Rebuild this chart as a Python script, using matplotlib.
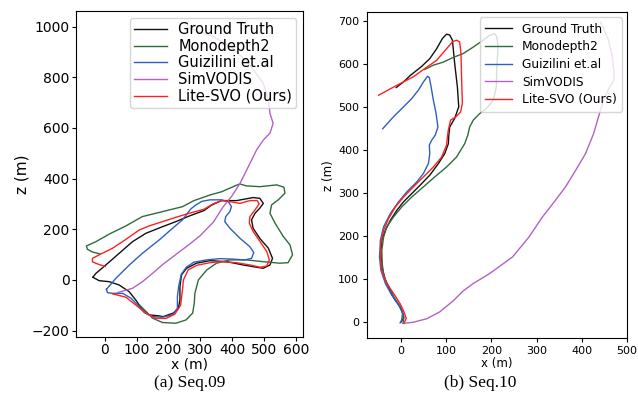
import matplotlib
matplotlib.use("Agg")
import matplotlib.pyplot as plt
import numpy as np

# colours of the five methods
names = ["Ground Truth", "Monodepth2", "Guizilini et.al", "SimVODIS", "Lite-SVO (Ours)"]
colors = ["#111111", "#2f6b3c", "#2f5fc0", "#b263c4", "#ff2020"]

# ---- Seq.09 trajectories (x, z) in metres ----
gt09_x = [-37, -18, 14, 45, 76, 97, 118, 139, 171, 183, 215, 231, 236, 236, 241, 257, 288, 330, 383, 435,
          477, 498, 519, 527, 514, 487, 466, 461, 472, 487, 498, 487, 466, 414, 367, 335, 312, 265, 223, 181,
          129, 87, 45, 3, -28, -37]
gt09_z = [10, -3, -7, -20, -46, -79, -118, -138, -142, -145, -131, -112, -79, -26, 20, 46, 66, 76, 72, 59,
          50, 46, 59, 85, 125, 164, 204, 237, 263, 283, 302, 322, 325, 313, 313, 295, 274, 252, 230, 210,
          184, 151, 105, 59, 26, 12]

mono09_x = [110, 150, 181, 223, 255, 276, 281, 283, 294, 320, 351, 393, 445, 498, 550, 576, 590, 582, 561,
            535, 519, 524, 545, 566, 563, 540, 487, 445, 424, 409, 367, 330, 280, 244, 202, 160, 118, 66,
            14, -28, -58, -55, -39, -16]
mono09_z = [-100, -151, -168, -171, -158, -131, -92, -53, 0, 39, 66, 79, 79, 72, 66, 68, 99, 138, 171,
            224, 263, 296, 316, 342, 366, 375, 368, 371, 379, 371, 348, 335, 313, 289, 276, 263, 250, 213,
            181, 151, 134, 121, 110, 103]

guiz09_x = [5, 8, 24, 56, 82, 103, 124, 150, 181, 213, 228, 228, 232, 240, 256, 280, 320, 362, 404, 440,
            461, 468, 456, 425, 393, 377, 380, 393, 398, 388, 367, 330, 305, 285, 270, 244, 213, 171, 118,
            77, 35, 5]
guiz09_z = [-37, -50, -53, -53, -72, -99, -129, -145, -147, -138, -112, -66, -26, 22, 50, 70, 79, 84, 82, 79,
            85, 108, 131, 164, 204, 230, 250, 270, 289, 309, 316, 316, 310, 295, 280, 237, 204, 158, 105,
            59, 7, -37]

sim09_x = [40, 87, 118, 150, 181, 223, 265, 300, 341, 372, 398, 425, 451, 477, 498, 519, 529, 519, 514,
           498, 456, 403, 341, 267]
sim09_z = [-50, -33, -7, 26, 60, 100, 140, 175, 228, 289, 329, 381, 447, 513, 552, 579, 618, 657, 710,
           776, 848, 914, 960, 993]

lite09_x = [24, 66, 97, 129, 160, 192, 220, 238, 243, 247, 262, 290, 330, 362, 414, 456, 488, 509, 517,
            509, 488, 466, 454, 456, 472, 485, 479, 456, 425, 393, 367, 340, 312, 265, 223, 181, 139, 108,
            66, 24, -18, -39, -39, -23, 1]
lite09_z = [-55, -68, -99, -131, -151, -152, -135, -100, -50, 0, 40, 58, 68, 72, 68, 59, 50, 55, 79,
            112, 151, 191, 224, 250, 276, 300, 313, 313, 302, 309, 313, 300, 279, 263, 247, 230, 213, 197,
            160, 125, 99, 85, 71, 63, 53]

# ---- Seq.10 trajectories ----
gt10_x = [0, 6, 4, -1.5, -12, -23, -34, -42, -44, -42, -34, -23, -9, 6, 24, 42, 64, 83, 97, 105, 106, 108,
          119, 128, 125, 119, 114, 108, 101, 92, 79, 64, 46, 21, 6, -10]
gt10_z = [0, 9, 22, 36, 51, 71, 98, 129, 160, 191, 214, 237, 260, 280, 299, 318, 342, 369, 392, 415, 435,
          454, 474, 501, 547, 602, 656, 668, 670, 660, 636, 613, 595, 574, 559, 546]

mono10_x = [5, 7, -1.5, -16, -27, -37, -41, -42, -38, -31, -16, 2, 24, 50, 75, 101, 123, 141, 148, 152,
            160, 174, 189, 204, 211, 212, 215, 212, 207, 196, 182, 160, 138, 116, 94, 72, 53]
mono10_z = [-2, 12, 36, 60, 84, 105, 136, 167, 198, 222, 245, 268, 291, 315, 338, 361, 384, 415, 435, 454,
            470, 485, 497, 516, 547, 594, 640, 664, 671, 667, 656, 640, 625, 616, 605, 598, 588]

guiz10_x = [-1.5, 2, 4, -5, -20, -34, -44, -47, -45, -38, -23, -5, 13, 35, 50, 61, 64, 63, 68, 76, 82, 78,
            72, 67, 63, 59, 50, 39, 24, 6, -16, -40]
guiz10_z = [-1.5, 5, 22, 40, 63, 90, 121, 152, 191, 222, 253, 280, 303, 326, 346, 369, 392, 412, 423, 435,
            454, 485, 516, 547, 569, 572, 559, 540, 520, 501, 478, 450]

sim10_x = [4, 28, 57, 86, 116, 138, 160, 196, 247, 283, 313, 339, 364, 386, 408, 426, 441, 448, 459, 471,
           471, 467, 459, 448, 441]
sim10_z = [-3, 0, 8, 24, 50, 73, 90, 113, 152, 198, 245, 280, 315, 353, 392, 439, 493, 516, 543, 563,
           586, 617, 656, 683, 698]

lite10_x = [7, 12, 7, -1.5, -16, -31, -42, -45, -44, -38, -27, -12, 6, 28, 50, 72, 90, 101, 103, 105, 110,
            122, 132, 136, 134, 133, 130, 123, 114, 101, 79, 53, 28, -1.5, -23, -49]
lite10_z = [-3, 9, 24, 43, 67, 90, 121, 152, 183, 214, 241, 268, 291, 315, 338, 361, 384, 412, 431, 447,
            470, 478, 489, 509, 578, 625, 652, 656, 652, 636, 609, 590, 571, 555, 543, 528]

seq09 = [(gt09_x, gt09_z), (mono09_x, mono09_z), (guiz09_x, guiz09_z), (sim09_x, sim09_z), (lite09_x, lite09_z)]
seq10 = [(gt10_x, gt10_z), (mono10_x, mono10_z), (guiz10_x, guiz10_z), (sim10_x, sim10_z), (lite10_x, lite10_z)]

fig = plt.figure(figsize=(6.38, 3.95), dpi=100)
ax1 = fig.add_axes([0.119, 0.147, 0.356, 0.825])
ax2 = fig.add_axes([0.575, 0.144, 0.408, 0.825])

for (xs, zs), c, n in zip(seq09, colors, names):
    ax1.plot(xs, zs, color=c, lw=1.0, label=n)
for (xs, zs), c, n in zip(seq10, colors, names):
    ax2.plot(xs, zs, color=c, lw=1.0, label=n)

ax1.set_xlim(-91, 623)
ax1.set_ylim(-225, 1061)
ax1.set_xticks([0, 100, 200, 300, 400, 500, 600])
ax1.set_yticks([-200, 0, 200, 400, 600, 800, 1000])
ax1.tick_params(labelsize=10, length=3, pad=1.5)
ax1.set_xlabel("x (m)", fontsize=10, labelpad=0.5)
ax1.set_ylabel("z (m)", fontsize=11, labelpad=2)
ax1.legend(loc="upper right", fontsize=10.5, labelspacing=0.12, borderpad=0.3,
           handlelength=2.2, borderaxespad=0.45)

ax2.set_xlim(-75, 500)
ax2.set_ylim(-37, 721)
ax2.set_xticks([0, 100, 200, 300, 400, 500])
ax2.set_yticks([0, 100, 200, 300, 400, 500, 600, 700])
ax2.tick_params(labelsize=8, length=3, pad=2.5)
ax2.set_xlabel("x (m)", fontsize=8.5, labelpad=1)
ax2.set_ylabel("z (m)", fontsize=8.5, labelpad=2)
ax2.legend(loc="upper right", fontsize=8.8, labelspacing=0.38, borderpad=0.45,
           handlelength=2.2, borderaxespad=0.4)

fig.text(0.298, 0.030, "(a) Seq.09", ha="center", va="center", family="Liberation Serif", fontsize=12.5)
fig.text(0.752, 0.030, "(b) Seq.10", ha="center", va="center", family="Liberation Serif", fontsize=12.5)

fig.savefig("out.png", dpi=100)
